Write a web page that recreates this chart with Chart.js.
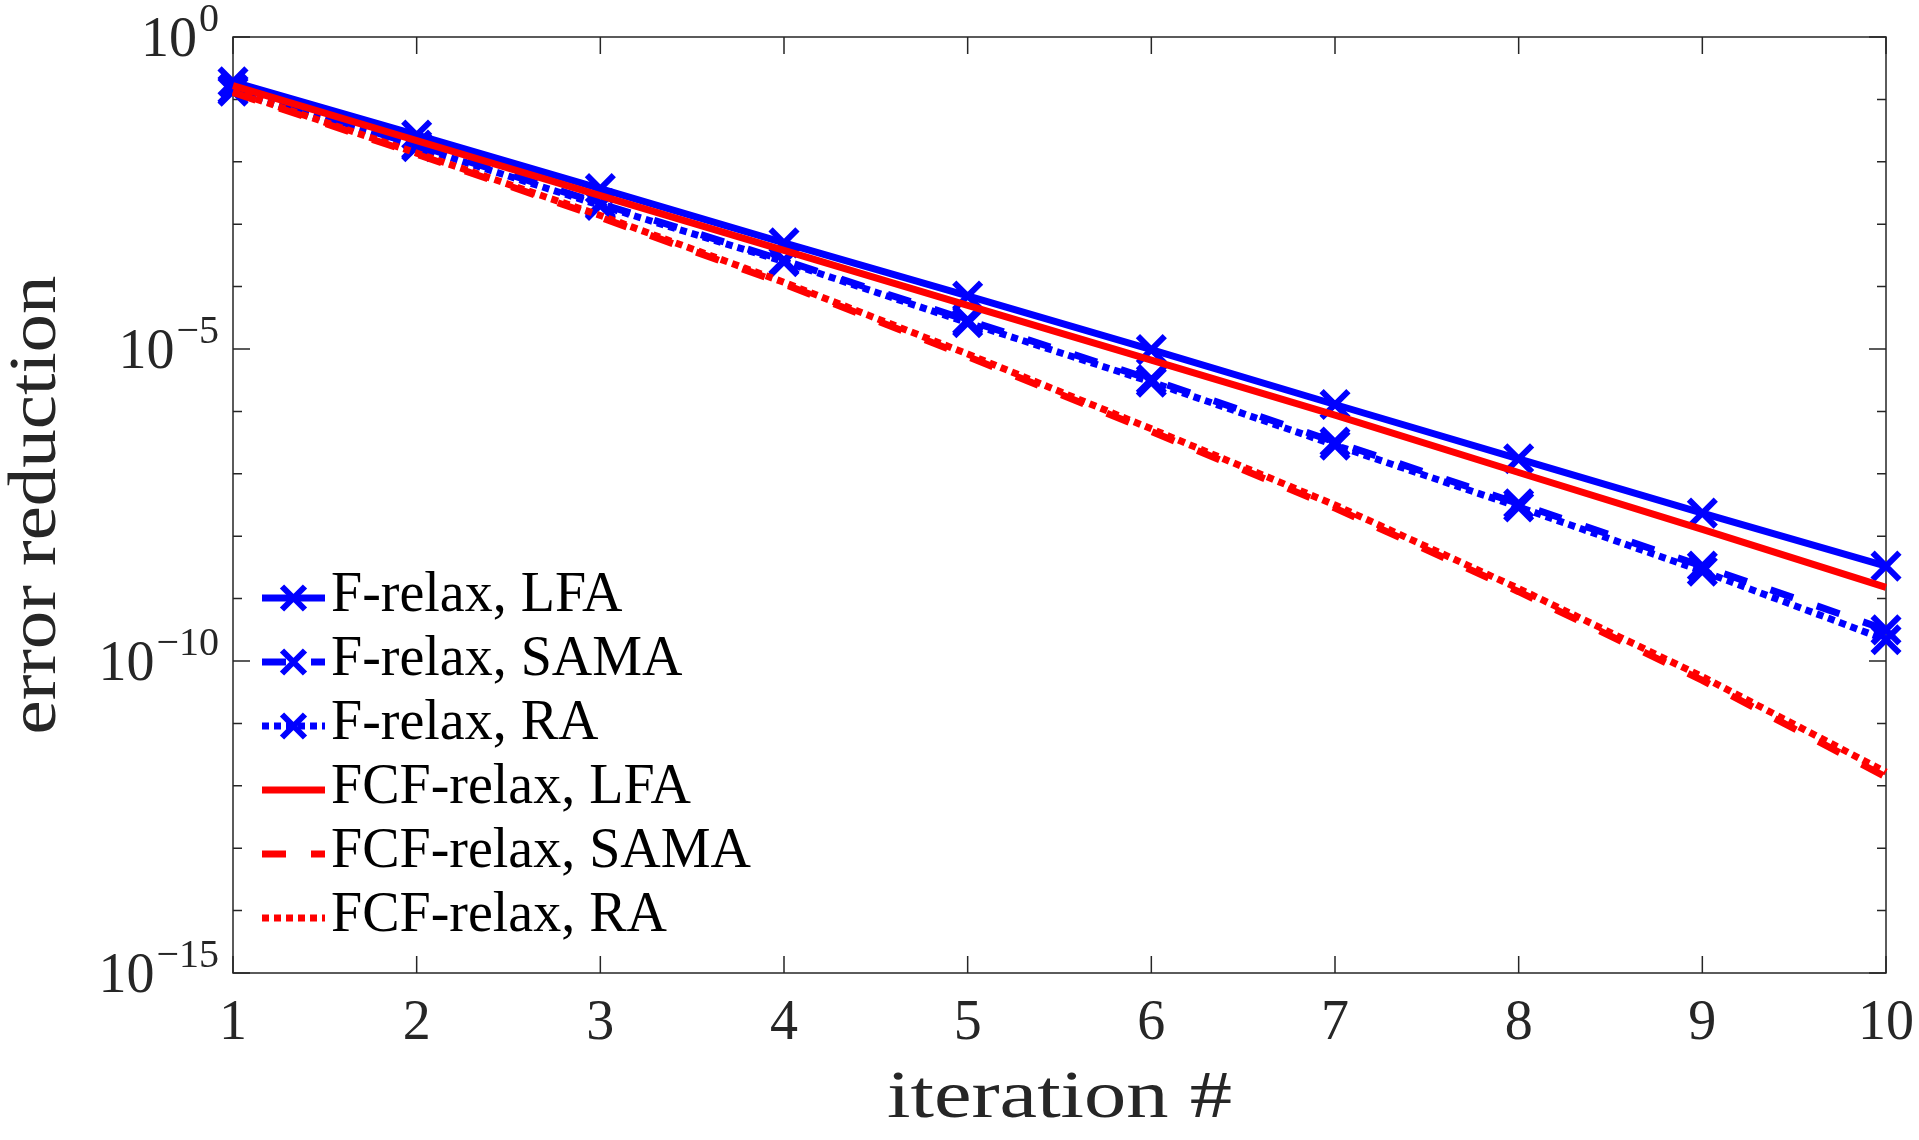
<!DOCTYPE html>
<html>
<head>
<meta charset="utf-8">
<script src="https://cdn.jsdelivr.net/npm/chart.js@4.4.0/dist/chart.umd.min.js"></script>
<style>
  html, body { margin: 0; padding: 0; background: #fff; overflow: hidden; }
  canvas { display: block; }
</style>
</head>
<body>
<canvas id="chart" width="1919" height="1140"></canvas>
<script>
// values (log scale)
const iterations = [1, 2, 3, 4, 5, 6, 7, 8, 9, 10];
const fRelaxLFA  = [1.91e-1, 2.69e-2, 3.72e-3, 5.01e-4, 7.08e-5, 9.77e-6, 1.29e-6, 1.74e-7, 2.34e-8, 3.31e-9];
const fRelaxSAMA = [1.45e-1, 1.86e-2, 2.14e-3, 2.63e-4, 2.88e-5, 3.24e-6, 3.24e-7, 3.31e-8, 3.31e-9, 3.16e-10];
const fRelaxRA   = [1.35e-1, 1.74e-2, 2.00e-3, 2.51e-4, 2.63e-5, 2.95e-6, 2.88e-7, 2.95e-8, 2.75e-9, 2.19e-10];
const fcfRelaxLFA  = [1.66e-1, 2.19e-2, 2.88e-3, 3.80e-4, 5.01e-5, 6.61e-6, 8.71e-7, 1.05e-7, 1.29e-8, 1.51e-9];
const fcfRelaxSAMA = [1.29e-1, 1.32e-2, 1.29e-3, 1.10e-4, 7.59e-6, 4.79e-7, 2.82e-8, 1.29e-9, 4.90e-11, 1.38e-12];
const fcfRelaxRA   = [1.35e-1, 1.38e-2, 1.38e-3, 1.17e-4, 8.32e-6, 5.25e-7, 3.16e-8, 1.45e-9, 5.62e-11, 1.66e-12];

const seriesLabels = ['F-relax, LFA', 'F-relax, SAMA', 'F-relax, RA', 'FCF-relax, LFA', 'FCF-relax, SAMA', 'FCF-relax, RA'];
const xTickLabels = ['1', '2', '3', '4', '5', '6', '7', '8', '9', '10'];
const yTickExponents = [0, -5, -10, -15];
const xTitle = 'iteration #';
const yTitle = 'error reduction';

const BLUE = '#0000ff';
const RED = '#ff0000';
const AXIS = '#262626';
const FONT = '"Liberation Serif", "DejaVu Serif", serif';

const pts = arr => iterations.map((x, i) => ({ x: x, y: arr[i] }));

function series(label, values, color, dash, marker, order) {
    return {
        label: label,
        data: pts(values),
        borderColor: color,
        backgroundColor: color,
        borderWidth: 7,
        borderDash: dash,
        borderCapStyle: 'butt',
        pointStyle: 'crossRot',
        pointRadius: marker ? 19 : 0,
        pointHoverRadius: marker ? 19 : 0,
        pointBorderWidth: 6,
        pointBorderColor: color,
        pointBackgroundColor: color,
        tension: 0,
        fill: false,
        clip: false,
        order: order
    };
}

function stretchedText(ctx, text, x, y, targetWidth) {
    const w = ctx.measureText(text).width;
    const sx = targetWidth ? targetWidth / w : 1;
    ctx.save();
    ctx.translate(x, y);
    ctx.scale(sx, 1);
    ctx.fillText(text, 0, 0);
    ctx.restore();
}

const matlabAxes = {
    id: 'matlabAxes',
    beforeDatasetsDraw(chart) {
        const { ctx, chartArea: a, scales: { x, y } } = chart;
        ctx.save();
        ctx.strokeStyle = AXIS;
        ctx.lineWidth = 1.5;
        ctx.beginPath();
        iterations.forEach(v => {
            const px = x.getPixelForValue(v);
            ctx.moveTo(px, a.bottom); ctx.lineTo(px, a.bottom - 17);
            ctx.moveTo(px, a.top); ctx.lineTo(px, a.top + 17);
        });
        for (let e = 0; e >= -15; e--) {
            const py = y.getPixelForValue(Math.pow(10, e));
            const len = yTickExponents.includes(e) ? 17 : 9;
            ctx.moveTo(a.left, py); ctx.lineTo(a.left + len, py);
            ctx.moveTo(a.right, py); ctx.lineTo(a.right - len, py);
        }
        ctx.stroke();
        ctx.strokeRect(a.left, a.top, a.right - a.left, a.bottom - a.top);
        ctx.restore();
    },
    afterDraw(chart) {
        const { ctx, chartArea: a, scales: { x, y } } = chart;
        ctx.save();
        ctx.fillStyle = AXIS;
        ctx.textBaseline = 'alphabetic';

        // x tick labels
        ctx.font = '56px ' + FONT;
        ctx.textAlign = 'center';
        iterations.forEach((v, i) => {
            ctx.fillText(xTickLabels[i], x.getPixelForValue(v), a.bottom + 66);
        });

        // y tick labels 10^e
        ctx.textAlign = 'left';
        yTickExponents.forEach(e => {
            const py = y.getPixelForValue(Math.pow(10, e));
            const exp = e === 0 ? '0' : '\u2212' + String(-e);
            ctx.font = '56px ' + FONT;
            const wBase = ctx.measureText('10').width;
            ctx.font = '40px ' + FONT;
            const wExp = ctx.measureText(exp).width;
            const x0 = a.left - 14 - wBase - wExp - 2;
            ctx.font = '56px ' + FONT;
            ctx.fillText('10', x0, py + 19);
            ctx.font = '40px ' + FONT;
            ctx.fillText(exp, x0 + wBase + 2, py - 6);
        });

        // axis titles
        ctx.font = '68px ' + FONT;
        ctx.textAlign = 'left';
        const xTarget = 345;
        stretchedText(ctx, xTitle, (a.left + a.right) / 2 - xTarget / 2, 1117, xTarget);
        const yTarget = 459;
        ctx.save();
        ctx.translate(55, (a.top + a.bottom) / 2 + yTarget / 2);
        ctx.rotate(-Math.PI / 2);
        stretchedText(ctx, yTitle, 0, 0, yTarget);
        ctx.restore();

        // legend
        const x1 = 262, x2 = 325, xm = (x1 + x2) / 2;
        chart.data.datasets.forEach((ds, i) => {
            const ry = 598 + i * 64;
            ctx.save();
            ctx.strokeStyle = ds.borderColor;
            ctx.lineWidth = ds.borderWidth;
            ctx.lineCap = 'butt';
            ctx.setLineDash(ds.borderDash || []);
            ctx.beginPath();
            ctx.moveTo(x1, ry); ctx.lineTo(x2, ry);
            ctx.stroke();
            if (ds.pointRadius > 0) {
                const h = 11.5;
                ctx.setLineDash([]);
                ctx.lineWidth = ds.pointBorderWidth;
                ctx.beginPath();
                ctx.moveTo(xm - h, ry - h); ctx.lineTo(xm + h, ry + h);
                ctx.moveTo(xm - h, ry + h); ctx.lineTo(xm + h, ry - h);
                ctx.stroke();
            }
            ctx.restore();
            ctx.font = '56px ' + FONT;
            ctx.fillStyle = '#000';
            ctx.fillText(ds.label, 331, ry + 13);
        });
        ctx.restore();
    }
};

new Chart(document.getElementById('chart').getContext('2d'), {
    type: 'line',
    data: {
        datasets: [
            series(seriesLabels[0], fRelaxLFA, BLUE, [], true, 6),
            series(seriesLabels[1], fRelaxSAMA, BLUE, [24, 25], true, 5),
            series(seriesLabels[2], fRelaxRA, BLUE, [7, 5], true, 4),
            series(seriesLabels[3], fcfRelaxLFA, RED, [], false, 3),
            series(seriesLabels[4], fcfRelaxSAMA, RED, [24, 25], false, 2),
            series(seriesLabels[5], fcfRelaxRA, RED, [7, 5], false, 1)
        ]
    },
    options: {
        responsive: false,
        animation: false,
        devicePixelRatio: 1,
        layout: { padding: { top: 37, right: 33, left: 0, bottom: 0 } },
        plugins: {
            legend: { display: false },
            tooltip: { enabled: false },
            title: { display: false }
        },
        scales: {
            x: {
                type: 'linear', min: 1, max: 10,
                grid: { display: false }, border: { display: false },
                ticks: { display: false },
                afterFit: s => { s.height = 167; }
            },
            y: {
                type: 'logarithmic', min: 1e-15, max: 1,
                grid: { display: false }, border: { display: false },
                ticks: { display: false },
                afterFit: s => { s.width = 233; }
            }
        }
    },
    plugins: [matlabAxes]
});
</script>
</body>
</html>
